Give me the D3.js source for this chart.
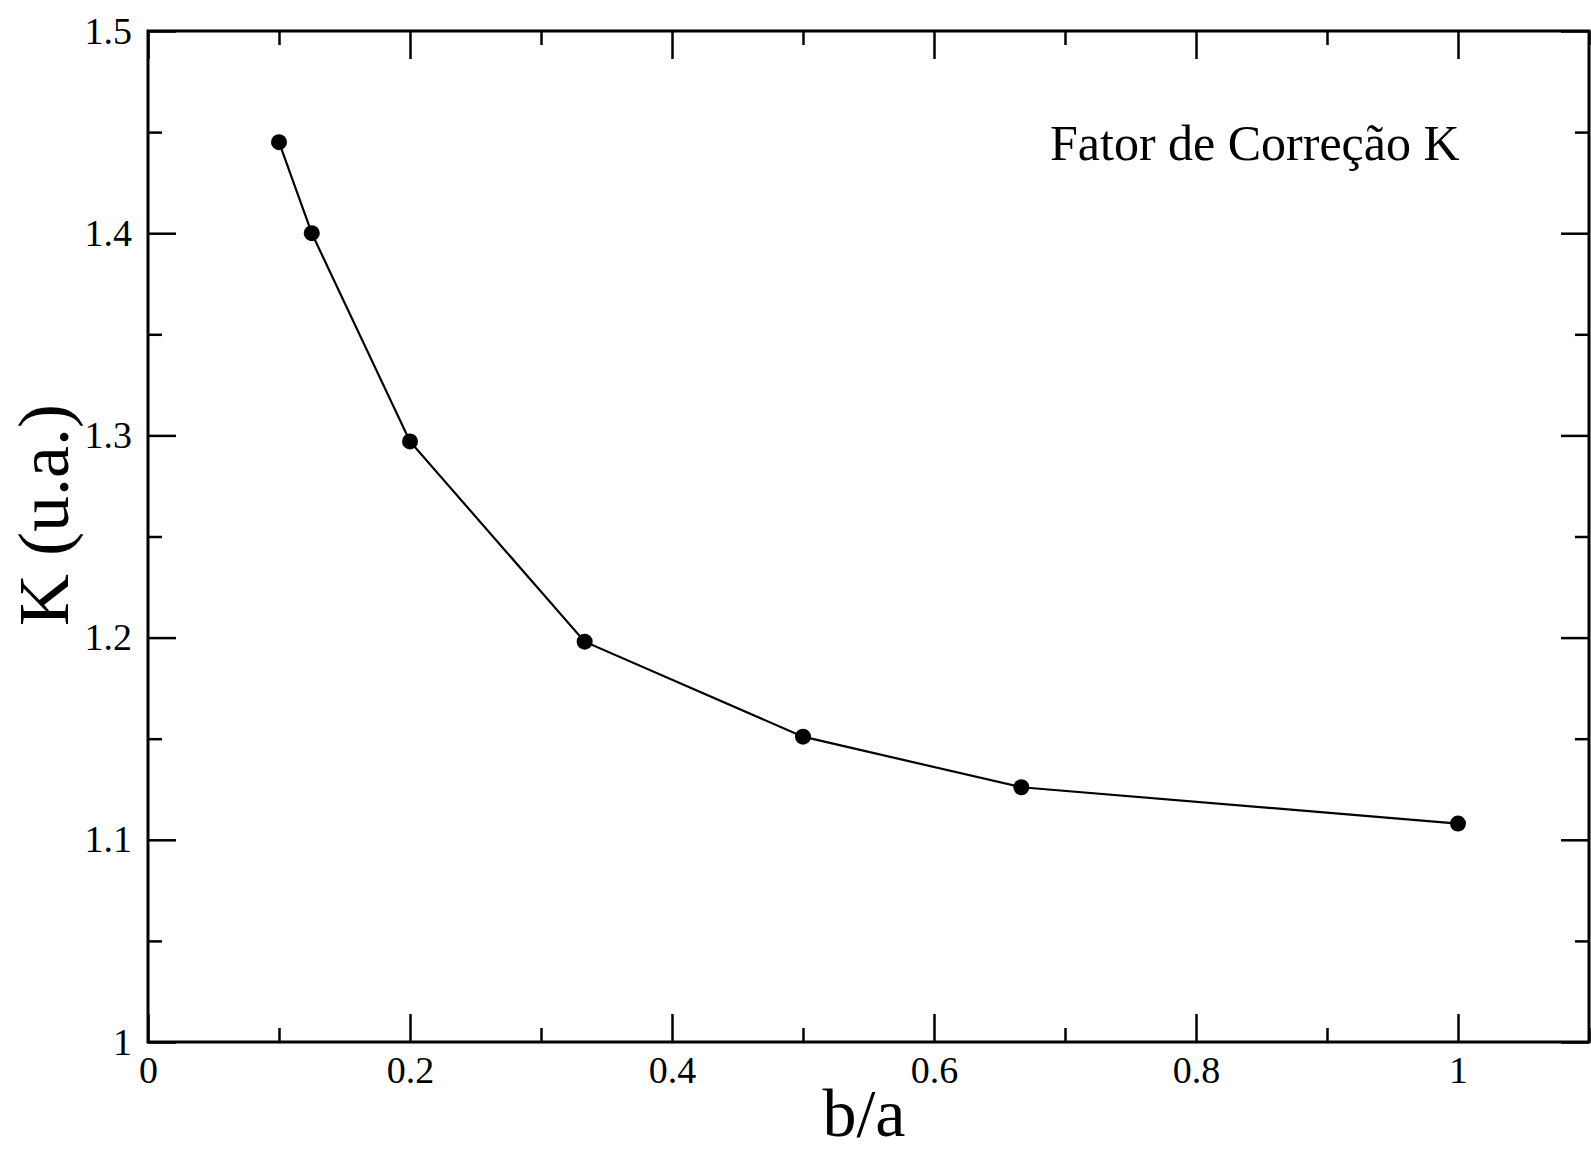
<!DOCTYPE html>
<html>
<head>
<meta charset="utf-8">
<script src="https://cdn.jsdelivr.net/npm/d3@7"></script>
<style>
  body { margin: 0; background: #fff; }
  text { font-family: "Liberation Serif", "Times New Roman", serif; fill: #000; }
</style>
</head>
<body>
<div class="svg-container"></div>
<script>
var w = 1591, h = 1150;

// data
var ratios = [0.1, 0.125, 0.2, 1/3, 0.5, 2/3, 1.0];
var kValues = [1.445, 1.400, 1.297, 1.198, 1.151, 1.126, 1.108];

var xMajor = [0, 0.2, 0.4, 0.6, 0.8, 1];
var xMinor = [0.1, 0.3, 0.5, 0.7, 0.9, 1.1];
var yMajor = [1, 1.1, 1.2, 1.3, 1.4, 1.5];
var yMinor = [1.05, 1.15, 1.25, 1.35, 1.45];

var xLabel = "b/a", yLabel = "K (u.a.)", legendText = "Fator de Correção K";

var p_left = 148, p_right = 1589, p_top = 31, p_bottom = 1042;

var svg = d3.select(".svg-container").append("svg")
    .attr("width", w)
    .attr("height", h);

var x = d3.scaleLinear().domain([0, 1.1]).range([p_left, p_right]);
var y = d3.scaleLinear().domain([1, 1.5]).range([p_bottom, p_top]);

var fmt = function(d) { return String(+d.toFixed(2)); };

// ticks, all pointing inward
function addAxis(axis, tr, labels) {
    var g = svg.append("g").attr("transform", tr).call(axis);
    g.select(".domain").remove();
    g.selectAll("line").attr("stroke", "#000").attr("stroke-width", 2.5);
    if (!labels) g.selectAll("text").remove();
    return g;
}

var bx = addAxis(d3.axisBottom(x).tickValues(xMajor).tickSizeInner(-28).tickPadding(14).tickFormat(fmt),
    "translate(0," + p_bottom + ")", true);
bx.selectAll("text").attr("font-size", 38);
addAxis(d3.axisBottom(x).tickValues(xMinor).tickSizeInner(-14).tickFormat(""), "translate(0," + p_bottom + ")");
addAxis(d3.axisTop(x).tickValues(xMajor).tickSizeInner(-28).tickFormat(""), "translate(0," + p_top + ")");
addAxis(d3.axisTop(x).tickValues(xMinor).tickSizeInner(-14).tickFormat(""), "translate(0," + p_top + ")");

var ly = addAxis(d3.axisLeft(y).tickValues(yMajor).tickSizeInner(-28).tickPadding(16).tickFormat(fmt),
    "translate(" + p_left + ",0)", true);
ly.selectAll("text").attr("font-size", 38);
addAxis(d3.axisLeft(y).tickValues(yMinor).tickSizeInner(-14).tickFormat(""), "translate(" + p_left + ",0)");
addAxis(d3.axisRight(y).tickValues(yMajor).tickSizeInner(-28).tickFormat(""), "translate(" + p_right + ",0)");
addAxis(d3.axisRight(y).tickValues(yMinor).tickSizeInner(-14).tickFormat(""), "translate(" + p_right + ",0)");

svg.selectAll(".tick text").attr("font-family", null);

// frame
svg.append("rect")
    .attr("x", p_left).attr("y", p_top)
    .attr("width", p_right - p_left).attr("height", p_bottom - p_top)
    .attr("fill", "none")
    .attr("stroke", "#000")
    .attr("stroke-width", 3);

var pts = ratios.map(function(r, i) { return [x(r), y(kValues[i])]; });

svg.append("path")
    .attr("d", d3.line()(pts))
    .attr("fill", "none")
    .attr("stroke", "#000")
    .attr("stroke-width", 2.2);

svg.selectAll("circle.pt")
    .data(pts)
    .enter().append("circle")
    .attr("class", "pt")
    .attr("cx", function(d) { return d[0]; })
    .attr("cy", function(d) { return d[1]; })
    .attr("r", 8)
    .attr("fill", "#000");

svg.append("text")
    .attr("x", 864)
    .attr("y", 1136)
    .attr("text-anchor", "middle")
    .attr("font-size", 68)
    .text(xLabel);

svg.append("text")
    .attr("transform", "translate(68," + 515 + ") rotate(-90)")
    .attr("text-anchor", "middle")
    .attr("font-size", 72)
    .text(yLabel);

svg.append("text")
    .attr("x", 1050)
    .attr("y", 160)
    .attr("font-size", 50)
    .text(legendText);
</script>
</body>
</html>
